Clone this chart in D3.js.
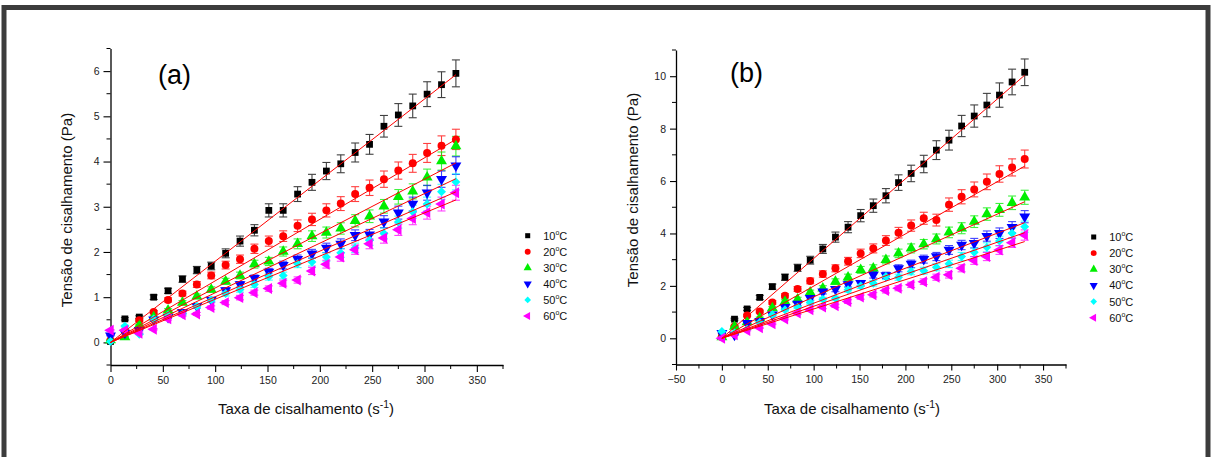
<!DOCTYPE html>
<html><head><meta charset="utf-8">
<script src="https://cdn.jsdelivr.net/npm/d3@7/dist/d3.min.js"></script>
<style>body{margin:0;background:#fff;} svg{display:block;font-family:"Liberation Sans",Arial,sans-serif;}</style>
</head><body>
<svg id="c" width="1212" height="457"></svg>
<script>
// ---------- data ----------
const shearRate = [0,13.75,27.5,41.25,55,68.75,82.5,96.25,110,123.75,137.5,151.25,165,178.75,192.5,206.25,220,233.75,247.5,261.25,275,288.75,302.5,316.25,330];
const temps = ["10","20","30","40","50","60"];
// panel (a)
const a10 = [0.02,0.52,0.56,1.00,1.14,1.40,1.60,1.69,1.97,2.24,2.48,2.92,2.92,3.28,3.54,3.79,3.95,4.20,4.38,4.78,5.03,5.23,5.49,5.70,5.95];
const a20 = [0.05,0.25,0.49,0.67,0.94,1.08,1.28,1.48,1.71,1.84,2.07,2.24,2.35,2.58,2.72,2.92,3.07,3.28,3.42,3.61,3.80,3.96,4.19,4.35,4.49];
const a30 = [0.05,0.12,0.38,0.56,0.71,0.88,1.02,1.17,1.35,1.48,1.73,1.79,2.01,2.18,2.35,2.43,2.52,2.69,2.79,3.01,3.22,3.34,3.65,4.01,4.34];
const a40 = [0.15,0.21,0.27,0.50,0.56,0.67,0.80,0.94,1.15,1.28,1.42,1.56,1.71,1.84,1.96,2.09,2.18,2.37,2.38,2.67,2.87,3.06,3.31,3.61,3.91];
const a50 = [0.02,0.36,0.18,0.52,0.60,0.63,0.80,0.94,1.08,1.17,1.28,1.45,1.48,1.74,1.78,1.89,1.98,2.09,2.26,2.41,2.66,2.89,3.06,3.33,3.55];
const a60 = [0.27,0.27,0.20,0.29,0.52,0.61,0.63,0.77,0.88,0.99,1.10,1.19,1.31,1.38,1.58,1.73,1.89,2.05,2.18,2.31,2.49,2.74,2.87,3.06,3.31];
const fitEndA = [5.92,4.49,3.97,3.62,3.33,3.15];   // fitted line value at shear rate 330
// panel (b)
const b10 = [0.08,0.73,1.12,1.56,1.97,2.33,2.69,2.98,3.41,3.86,4.24,4.68,5.06,5.44,5.94,6.29,6.65,7.18,7.56,8.10,8.48,8.90,9.28,9.78,10.15];
const b20 = [0.05,0.45,0.87,1.02,1.37,1.62,1.88,2.19,2.45,2.67,2.94,3.24,3.43,3.73,4.03,4.30,4.58,4.51,5.10,5.40,5.68,5.97,6.27,6.52,6.84];
const b30 = [0.05,0.45,0.62,0.77,1.15,1.40,1.49,1.75,1.91,2.16,2.33,2.61,2.67,2.99,3.24,3.43,3.59,3.79,4.04,4.20,4.45,4.74,4.90,5.17,5.38];
const b40 = [0.20,0.13,0.58,0.65,0.90,1.19,1.31,1.53,1.78,1.87,2.06,2.10,2.42,2.40,2.67,2.84,3.02,3.12,3.37,3.56,3.63,3.90,4.01,4.24,4.64];
const b50 = [0.26,0.20,0.35,0.60,0.90,1.09,1.19,1.37,1.49,1.53,1.85,2.00,2.10,2.36,2.33,2.55,2.58,2.71,2.84,3.12,3.28,3.47,3.71,4.01,4.26];
const b60 = [0.00,0.13,0.30,0.40,0.55,0.74,0.96,1.09,1.19,1.24,1.40,1.57,1.66,1.82,1.91,2.04,2.16,2.33,2.42,2.67,2.97,3.12,3.37,3.65,3.94];
const fitEndB = [10.04,6.57,5.21,4.41,4.03,3.69];
const errFrac = 0.05;  // error bars ~5% of value
const fitX = [0,330];
const xTicksA = [0,50,100,150,200,250,300,350];
const xTicksB = [-50,0,50,100,150,200,250,300,350];
const yTicksA = [0,1,2,3,4,5,6];
const yTicksB = [0,2,4,6,8,10];

// ---------- style ----------
const colors = ["#000000","#ff0000","#00ee00","#0000ff","#00ffff","#ff00ff"];
const shapes = [
  {t:d3.symbolSquare, s:46, r:0},
  {t:d3.symbolCircle, s:50, r:0},
  {t:d3.symbolTriangle, s:52, r:0},
  {t:d3.symbolTriangle, s:52, r:180},
  {t:d3.symbolSquare, s:40, r:45},
  {t:d3.symbolTriangle, s:52, r:-90}
];
const svg = d3.select("#c");
svg.append("rect").attr("width",1212).attr("height",457).attr("fill","#fff");
// frame
svg.append("rect").attr("x",4).attr("y",7.5).attr("width",1204).attr("height",460)
  .attr("fill","none").attr("stroke","#3c3c3c").attr("stroke-width",5);

function panel(cfg){
  const g = svg.append("g");
  const x = d3.scaleLinear().domain(cfg.xd).range(cfg.xr);
  const y = d3.scaleLinear().domain(cfg.yd).range(cfg.yr);
  // axes
  const xMinor = d3.range(cfg.xd[0], cfg.xd[1]+0.01, 25).filter(v=>!cfg.xt.includes(v));
  const yMinor = d3.range(cfg.yd[0], cfg.yd[1]+0.001, cfg.ym).filter(v=>!cfg.yt.some(t=>Math.abs(t-v)<1e-6));
  const xa = g.append("g").attr("transform",`translate(0,${cfg.yr[0]})`)
    .call(d3.axisBottom(x).tickValues(cfg.xt).tickFormat(d3.format("d")).tickSize(cfg.tk).tickSizeOuter(0).tickPadding(5));
  xa.append("g").selectAll("line").data(xMinor).join("line")
    .attr("x1",d=>x(d)).attr("x2",d=>x(d)).attr("y1",0).attr("y2",cfg.tm).attr("stroke","#000");
  const ya = g.append("g").attr("transform",`translate(${cfg.xr[0]},0)`)
    .call(d3.axisLeft(y).tickValues(cfg.yt).tickFormat(d3.format("d")).tickSize(cfg.tk).tickSizeOuter(0).tickPadding(4));
  ya.append("g").selectAll("line").data(yMinor).join("line")
    .attr("y1",d=>y(d)).attr("y2",d=>y(d)).attr("x1",0).attr("x2",-cfg.tm).attr("stroke","#000");
  [xa,ya].forEach(a=>{
    a.select(".domain").attr("stroke","#000").attr("stroke-width",1.3);
    a.selectAll(".tick line").attr("stroke","#000").attr("stroke-width",1.1);
    a.selectAll("text").attr("font-size",10.5).attr("fill","#222").attr("font-family","Liberation Sans, Arial, sans-serif");
  });
  // axis titles
  const xt = g.append("text").attr("x",cfg.xtitle[0]).attr("y",cfg.xtitle[1]).attr("text-anchor","middle")
    .attr("font-size",15).attr("fill","#111");
  xt.append("tspan").text("Taxa de cisalhamento (s");
  xt.append("tspan").text("-1").attr("font-size",10.5).attr("dy",-6);
  xt.append("tspan").text(")").attr("dy",6);
  g.append("text").attr("transform",`translate(${cfg.ytitle[0]},${cfg.ytitle[1]}) rotate(-90)`)
    .attr("text-anchor","middle").attr("font-size",15).attr("fill","#111").text("Tensão de cisalhamento (Pa)");
  g.append("text").attr("x",cfg.lab[0]).attr("y",cfg.lab[1]).attr("font-size",27).attr("fill","#000").text(cfg.label);

  // series
  cfg.series.forEach((vals,si)=>{
    const c = colors[si];
    const pts = shearRate.map((sr,i)=>({x:sr,y:vals[i],e:vals[i]*errFrac}));
    const eb = g.append("g").attr("stroke",c).attr("stroke-width",1.1).attr("opacity",0.75);
    pts.forEach(p=>{
      const px = x(p.x), y1 = y(p.y+p.e), y2 = y(p.y-p.e);
      eb.append("line").attr("x1",px).attr("x2",px).attr("y1",y1).attr("y2",y2);
      eb.append("line").attr("x1",px-4).attr("x2",px+4).attr("y1",y1).attr("y2",y1);
      eb.append("line").attr("x1",px-4).attr("x2",px+4).attr("y1",y2).attr("y2",y2);
    });
  });
  cfg.series.forEach((vals,si)=>{
    const sh = shapes[si];
    g.append("g").selectAll("path").data(shearRate.map((sr,i)=>[sr,vals[i]])).join("path")
      .attr("d",d3.symbol().type(sh.t).size(sh.s))
      .attr("transform",d=>`translate(${x(d[0])},${y(d[1])}) rotate(${sh.r})`)
      .attr("fill",colors[si]);
  });
  // fit lines
  const line = d3.line().x(d=>x(d[0])).y(d=>y(d[1]));
  cfg.fits.forEach(fe=>{
    g.append("path").attr("d",line([[fitX[0],0],[fitX[1],fe]])).attr("stroke","#ff0000")
      .attr("stroke-width",1).attr("fill","none");
  });
  // legend
  const lg = g.append("g");
  temps.forEach((t,i)=>{
    const yy = cfg.leg[1] + i*cfg.leg[2];
    const sh = shapes[i];
    lg.append("path").attr("d",d3.symbol().type(sh.t).size(sh.s*0.55)())
      .attr("transform",`translate(${cfg.leg[0]},${yy}) rotate(${sh.r})`).attr("fill",colors[i]);
    const tx = lg.append("text").attr("x",cfg.leg[0]+15.5).attr("y",yy+4).attr("font-size",11).attr("fill","#111");
    tx.append("tspan").text(t);
    tx.append("tspan").text("o").attr("font-size",7).attr("dy",-5);
    tx.append("tspan").text("C").attr("dy",5);
  });
}

panel({xd:[0,375], xr:[110.5,503], yd:[-0.5,6.5], yr:[365,48.5], xt:xTicksA, yt:yTicksA, ym:0.5, tk:7, tm:4,
  series:[a10,a20,a30,a40,a50,a60], fits:fitEndA, label:"(a)", lab:[158,84],
  xtitle:[306,414], ytitle:[72,210], leg:[527.7,235.7,16.05]});
panel({xd:[-50,375], xr:[676,1066], yd:[-1,11], yr:[364.5,50], xt:xTicksB, yt:yTicksB, ym:1, tk:6, tm:4,
  series:[b10,b20,b30,b40,b50,b60], fits:fitEndB, label:"(b)", lab:[730,82],
  xtitle:[852,414], ytitle:[638,190], leg:[1093.7,237,16.15]});
</script>
</body></html>
